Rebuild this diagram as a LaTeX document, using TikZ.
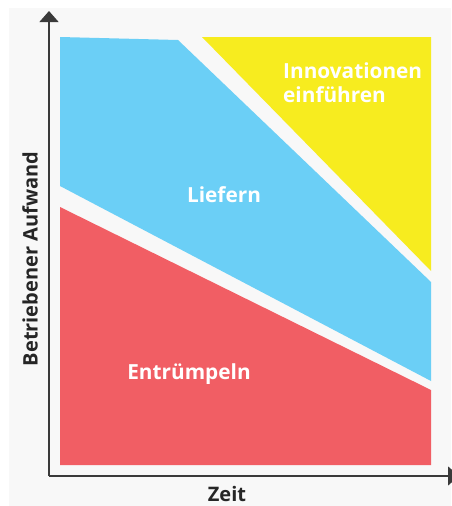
\documentclass[tikz,border=0pt]{standalone}
\usepackage{fontspec}
\setmainfont{Open Sans}
\usetikzlibrary{arrows.meta}

\definecolor{bggray}{HTML}{F8F8F8}
\definecolor{areablue}{HTML}{6BCFF6}
\definecolor{areayellow}{HTML}{F7EC1F}
\definecolor{areared}{HTML}{F15E64}
\definecolor{axisgray}{HTML}{3A3A3A}

\tikzset{
    area label/.style={text=white,font=\bfseries\fontsize{20.8pt}{24pt}\selectfont,inner sep=0},
    axis label/.style={text=black!85,font=\bfseries\fontsize{20pt}{23pt}\selectfont,inner sep=0},
    axis line/.style={draw=axisgray,line width=1.2pt,-{Triangle[width=19pt,length=11pt]}}
}

\begin{document}
\begin{tikzpicture}[x=1pt,y=-1pt]
    \pgfmathsetmacro{\plotleft}{60}
    \pgfmathsetmacro{\plotright}{431}
    \pgfmathsetmacro{\plottop}{37}
    \pgfmathsetmacro{\plotbottom}{465}
    \useasboundingbox (0,0) rectangle (451,506);
    \fill[bggray] (9,8) rectangle (451,506);

    % the three phases
    \fill[areared] (\plotleft,207) -- (\plotright,390) -- (\plotright,\plotbottom) -- (\plotleft,\plotbottom) -- cycle;
    \fill[areablue] (\plotleft,\plottop) -- (178,40) -- (\plotright,282) -- (\plotright,381) -- (\plotleft,186) -- cycle;
    \fill[areayellow] (202,\plottop) -- (\plotright,\plottop) -- (\plotright,271) -- cycle;

    \node[area label,align=left,anchor=west] (innov) at (283,83) {Innovationen\\einführen};
    \node[area label] (liefern) at (224,195) {Liefern};
    \node[area label] (entr) at (189,374) {Entrümpeln};

    % axes
    \coordinate (origin) at (49,476);
    \coordinate (ytop) at (49,11);
    \coordinate (xend) at (459,476);
    \draw[axis line] (origin) -- (ytop);
    \draw[axis line] (origin) -- (xend);
    \node[axis label] (zeit) at (227,494) {Zeit};
    \node[axis label,rotate=90] (aufwand) at (30,259) {Betriebener Aufwand};
\end{tikzpicture}
\end{document}
